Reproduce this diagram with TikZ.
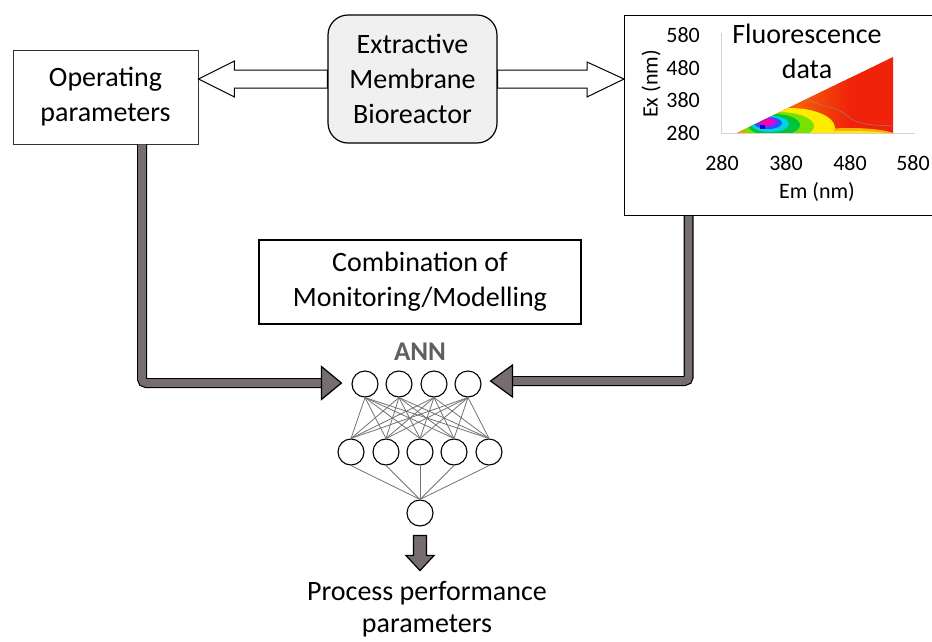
\documentclass[tikz,border=0pt]{standalone}
\usepackage{fontspec}
\setmainfont{Carlito}
\usetikzlibrary{calc}
\definecolor{tubegray}{RGB}{118,110,110}
\definecolor{embgray}{RGB}{240,240,240}
\definecolor{axisgray}{RGB}{210,210,210}
\definecolor{anngray}{RGB}{95,95,95}
\definecolor{hmorange}{RGB}{255,160,0}
\definecolor{hmred}{RGB}{240,35,10}
\definecolor{hmyellow}{RGB}{255,235,0}
\definecolor{hmlime}{RGB}{120,225,0}
\definecolor{hmgreen}{RGB}{0,195,60}
\definecolor{hmcyan}{RGB}{0,210,230}
\definecolor{hmblue}{RGB}{40,80,255}
\definecolor{hmmagenta}{RGB}{230,0,220}
\definecolor{hmpink}{RGB}{255,0,140}
\tikzset{
  box/.style={draw, line width=1pt, fill=white, align=center, inner sep=0pt,
    font=\fontsize{28}{35}\selectfont},
  hollow/.style={draw, line width=1pt, fill=white, line join=miter},
  tube/.style={draw=black, line width=1.2pt, double=tubegray, double distance=7.6pt, rounded corners=4pt},
  tubehead/.style={draw=black, line width=1.2pt, fill=tubegray, line join=miter},
  neuron/.style={circle, draw, line width=1.1pt, minimum size=26pt, inner sep=0pt, fill=white},
  conn/.style={draw=black!55, line width=0.8pt},
  ticklab/.style={font=\fontsize{22}{26}\selectfont, inner sep=0pt},
  plain/.style={font=\fontsize{28}{35}\selectfont, align=center, inner sep=0pt}
}
\begin{document}
\begin{tikzpicture}[x=1pt,y=-1pt]
\useasboundingbox (0,0) rectangle (932,641);

% main boxes
\node[box, line width=0.8pt, draw=black!80, minimum width=185pt, minimum height=94pt] (op) at (105.5,97) {Operating\\parameters};
\node[box, fill=embgray, rounded corners=20pt, line width=1.2pt, minimum width=169pt, minimum height=128pt] (emb) at (412.5,79) {Extractive\\Membrane\\Bioreactor};
\node[draw, line width=1.2pt, fill=white, anchor=north west, minimum width=312pt, minimum height=200pt, inner sep=0pt] (fl) at (624,15) {};
\node[box, line width=1.2pt, minimum width=322pt, minimum height=84pt] (comb) at (420,282) {Combination of\\Monitoring/Modelling};

% hollow arrows
\coordinate (ltip) at (op.east |- emb.west);
\draw[hollow] (ltip) -- ++(36,-18) -- ++(0,9) -- ([yshift=9pt]emb.west)
  -- ([yshift=-9pt]emb.west) -- ($(ltip)+(36,9)$) -- ++(0,9) -- cycle;
\coordinate (rtip) at (fl.west |- emb.east);
\draw[hollow] ([yshift=9pt]emb.east) -- ($(rtip)+(-37,-9)$) -- ++(0,-8) -- (rtip)
  -- ++(-37,18) -- ++(0,-9) -- ([yshift=-9pt]emb.east) -- cycle;

% fluorescence plot
\begin{scope}
\clip (737,133) -- (893,133) -- (893,57) -- cycle;
\fill[hmred] (737,50) rectangle (894,134);
\shade[left color=hmorange, right color=hmred] (737,50) rectangle (850,134);
\fill[hmorange!80!hmyellow] (850,138) ellipse (50pt and 10pt);
\fill[hmyellow] (850,136) ellipse (45pt and 5pt);
\fill[hmyellow] (790,128) ellipse (45pt and 20pt);
\fill[hmlime] (778,126) ellipse (36pt and 14pt);
\fill[hmgreen] (774,125) ellipse (26pt and 11pt);
\fill[hmcyan] (770,124) ellipse (19pt and 8pt);
\fill[hmblue] (768,123) ellipse (14pt and 6pt);
\fill[hmmagenta] (767,122) ellipse (9pt and 4.5pt);
\fill[hmpink] (766,122) ellipse (4pt and 2.5pt);
\fill[blue!80!black] (760,125) rectangle (765,129);
\draw[black!45, line width=0.4pt] (805,97) .. controls (812,106) and (835,104) .. (850,118) .. controls (860,126) and (880,125) .. (893,126);
\end{scope}
\draw[axisgray, line width=1pt] (721,33) -- (721,133) -- (915,133);
\node[ticklab, anchor=east] (y580) at (700,35) {580};
\node[ticklab, anchor=east] (y480) at (700,68) {480};
\node[ticklab, anchor=east] (y380) at (700,100) {380};
\node[ticklab, anchor=east] (y280) at (700,133) {280};
\node[ticklab] (x280) at (722,163) {280};
\node[ticklab] (x380) at (786,163) {380};
\node[ticklab] (x480) at (850,163) {480};
\node[ticklab] (x580) at (913,163) {580};
\node[ticklab] (em) at (817,192) {Em (nm)};
\node[ticklab, rotate=90] (ex) at (651,84) {Ex (nm)};
\node[plain] (fltitle) at (807,51) {Fluorescence\\data};

% ANN
\node[font=\fontsize{27}{30}\selectfont\bfseries, text=anngray, inner sep=0pt] (annlab) at (420,352) {ANN};
\foreach \x [count=\i] in {365,399,434,468} \node[neuron] (i\i) at (\x,384) {};
\foreach \x [count=\i] in {351,386,420,454,489} \node[neuron] (h\i) at (\x,452) {};
\node[neuron] (o) at (420,513) {};
\foreach \i in {1,...,4} \foreach \j in {1,...,5} \draw[conn] (i\i.south) -- (h\j.north);
\foreach \j in {1,...,5} \draw[conn] (h\j.south) -- (o.north);

% thick tubes
\coordinate (lstart) at ([xshift=36.5pt]op.south);
\coordinate (lhb) at ($(i1.west)+(-30,-1)$);
\draw[tube] (lstart) |- (lhb);
\draw[tubehead] (lhb) ++(0,-16.5) -- ++(20,16.5) -- ++(-20,16.5) -- cycle;
\coordinate (rstart) at ([xshift=-92pt]fl.south);
\coordinate (rhb) at ($(i4.east)+(31,-3)$);
\draw[tube] (rstart) |- (rhb);
\draw[tubehead] (rhb) ++(0,-16) -- ++(-22,16) -- ++(22,16) -- cycle;

% output arrow
\draw[tubehead] ($(o.south)+(-6.5,9)$) -- ++(0,20) -- ++(-7.5,0) -- ++(14,15) -- ++(14,-15) -- ++(-7.5,0) -- ++(0,-20) -- cycle;
\node[font=\fontsize{28}{32}\selectfont, align=center, inner sep=0pt, anchor=north] (pp) at (427,581) {Process performance\\parameters};
\end{tikzpicture}
\end{document}
